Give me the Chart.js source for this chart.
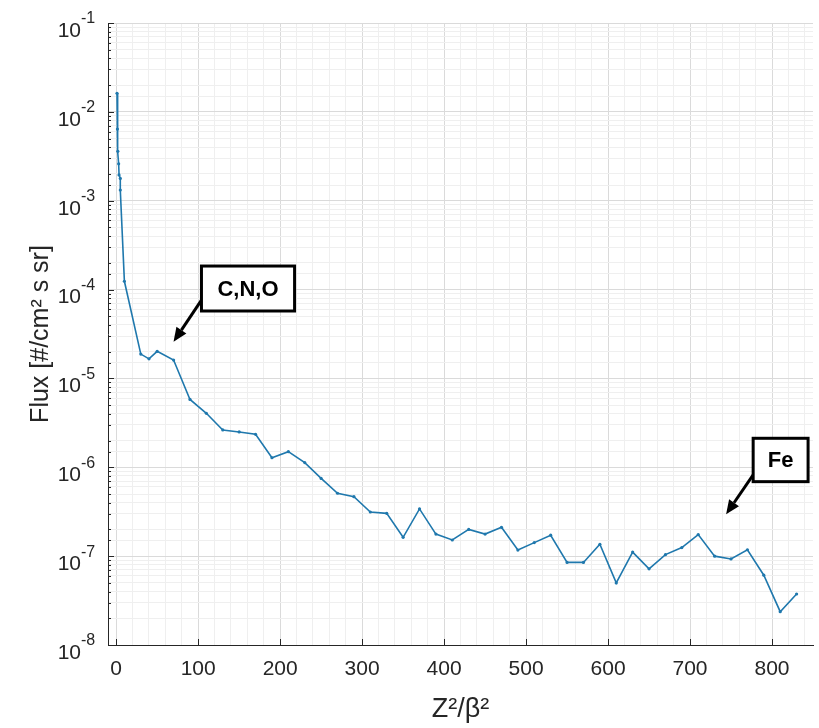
<!DOCTYPE html>
<html>
<head>
<meta charset="utf-8">
<script src="https://cdn.jsdelivr.net/npm/chart.js@4.4.0/dist/chart.umd.min.js"></script>
<style>
  html, body { margin: 0; padding: 0; background: #fff; }
  #wrap { width: 819px; height: 728px; }
</style>
</head>
<body>
<div id="wrap"><canvas id="fluxChart" width="819" height="728"></canvas></div>
<script>
// Z^2/beta^2 bins and the measured flux
const zOverBeta = [1, 1.5, 2, 3, 3.5, 5, 5, 10, 30, 40, 50, 70, 90, 110, 130, 150, 170, 190, 210, 230,
  250, 270, 290, 310, 330, 350, 370, 390, 410, 430, 450, 470, 490, 510, 530, 550, 570, 590, 610,
  630, 650, 670, 690, 710, 730, 750, 770, 790, 810, 830];
const flux = [1.62e-2, 6.4e-3, 3.6e-3, 2.6e-3, 1.95e-3, 1.78e-3, 1.32e-3, 1.24e-4, 1.88e-5, 1.66e-5,
  2.02e-5, 1.61e-5, 5.8e-6, 4.05e-6, 2.63e-6, 2.5e-6, 2.35e-6, 1.28e-6, 1.5e-6, 1.13e-6,
  7.5e-7, 5.1e-7, 4.67e-7, 3.14e-7, 3.03e-7, 1.63e-7, 3.4e-7, 1.77e-7, 1.52e-7, 2.0e-7,
  1.77e-7, 2.11e-7, 1.17e-7, 1.42e-7, 1.72e-7, 8.5e-8, 8.5e-8, 1.36e-7, 5.0e-8, 1.11e-7,
  7.2e-8, 1.04e-7, 1.25e-7, 1.75e-7, 1.0e-7, 9.3e-8, 1.18e-7, 6.1e-8, 2.37e-8, 3.75e-8];

const xTickLabels = [0, 100, 200, 300, 400, 500, 600, 700, 800];
const xMinorStep = 20;
const yExponents = [-8, -7, -6, -5, -4, -3, -2, -1];

const lineColor = "#1f78ad";
const axisColor = "#262626";
const fontFamily = "'Liberation Sans', Arial, Helvetica, sans-serif";

// callouts, anchored in data units
const notes = [
  { text: "C,N,O", x1: 104, x2: 217.6, yTop: 1.84e-4, yBottom: 5.74e-5, from: [104, 7.6e-5], to: [70, 2.59e-5] },
  { text: "Fe", x1: 777, x2: 844, yTop: 2.12e-6, yBottom: 6.89e-7, from: [777, 8.2e-7], to: [744, 2.96e-7] },
];

function drawArrow(ctx, x0, y0, x1, y1) {
  const ang = Math.atan2(y1 - y0, x1 - x0);
  const head = 14;
  const bx = x1 - head * Math.cos(ang);
  const by = y1 - head * Math.sin(ang);
  ctx.beginPath();
  ctx.moveTo(x0, y0);
  ctx.lineTo(bx, by);
  ctx.stroke();
  ctx.beginPath();
  ctx.moveTo(x1, y1);
  ctx.lineTo(bx + 6 * Math.sin(ang), by - 6 * Math.cos(ang));
  ctx.lineTo(bx - 6 * Math.sin(ang), by + 6 * Math.cos(ang));
  ctx.closePath();
  ctx.fill();
}

const fluxDecor = {
  id: "fluxDecor",
  afterDraw(chart) {
    const { ctx, chartArea } = chart;
    const x = chart.scales.x;
    const y = chart.scales.y;
    ctx.save();

    // inward tick marks like the original axes
    ctx.strokeStyle = axisColor;
    ctx.lineWidth = 1;
    x.ticks.forEach((t) => {
      if (!xTickLabels.includes(t.value)) return;
      const px = Math.round(x.getPixelForValue(t.value)) + 0.5;
      ctx.beginPath();
      ctx.moveTo(px, chartArea.bottom);
      ctx.lineTo(px, chartArea.bottom - 6);
      ctx.stroke();
    });
    y.ticks.forEach((t) => {
      const py = Math.round(y.getPixelForValue(t.value)) + 0.5;
      ctx.beginPath();
      ctx.moveTo(chartArea.left, py);
      ctx.lineTo(chartArea.left + (t.major ? 6 : 3), py);
      ctx.stroke();
    });

    // y labels as 10^n
    ctx.fillStyle = axisColor;
    y.ticks.forEach((t) => {
      if (!t.major) return;
      const exp = Math.round(Math.log10(t.value));
      if (!yExponents.includes(exp)) return;
      const py = y.getPixelForValue(t.value);
      ctx.font = "21px " + fontFamily;
      ctx.textAlign = "right";
      ctx.textBaseline = "middle";
      ctx.fillText("10", 81, py + 8);
      ctx.font = "16px " + fontFamily;
      ctx.textAlign = "left";
      ctx.fillText(String(exp), 81, py - 4);
    });

    // callout boxes and arrows
    notes.forEach((n) => {
      const left = x.getPixelForValue(n.x1);
      const right = x.getPixelForValue(n.x2);
      const top = y.getPixelForValue(n.yTop);
      const bottom = y.getPixelForValue(n.yBottom);
      ctx.strokeStyle = "#000";
      ctx.fillStyle = "#000";
      ctx.lineWidth = 3;
      drawArrow(ctx, x.getPixelForValue(n.from[0]), y.getPixelForValue(n.from[1]),
        x.getPixelForValue(n.to[0]), y.getPixelForValue(n.to[1]));
      ctx.fillStyle = "#fff";
      ctx.fillRect(left, top, right - left, bottom - top);
      ctx.strokeRect(left, top, right - left, bottom - top);
      ctx.fillStyle = "#000";
      ctx.font = "bold 22px " + fontFamily;
      ctx.textAlign = "center";
      ctx.textBaseline = "middle";
      ctx.fillText(n.text, (left + right) / 2, (top + bottom) / 2 + 1);
    });

    ctx.restore();
  },
};

const data = {
  datasets: [
    {
      label: "Flux",
      data: zOverBeta.map((v, i) => ({ x: v, y: flux[i] })),
      borderColor: lineColor,
      backgroundColor: lineColor,
      borderWidth: 1.6,
      pointRadius: 1.6,
      pointHoverRadius: 1.6,
      pointBorderWidth: 0,
      tension: 0,
    },
  ],
};

const config = {
  type: "line",
  data: data,
  options: {
    responsive: false,
    animation: false,
    devicePixelRatio: 1,
    layout: { padding: { top: 23, right: 6, left: 0, bottom: 0 } },
    plugins: {
      legend: { display: false },
      tooltip: { enabled: false },
    },
    scales: {
      x: {
        type: "linear",
        min: -10,
        max: 850,
        afterFit: (scale) => { scale.height = 83; },
        afterBuildTicks: (scale) => {
          const ticks = [];
          for (let v = xTickLabels[0]; v < scale.max; v += xMinorStep) ticks.push({ value: v });
          scale.ticks = ticks;
        },
        ticks: {
          autoSkip: false,
          maxRotation: 0,
          padding: 12,
          color: axisColor,
          font: { family: fontFamily, size: 21 },
          callback: (v) => (xTickLabels.includes(v) ? String(v) : ""),
        },
        grid: {
          drawTicks: false,
          color: (c) => (c.tick && xTickLabels.includes(c.tick.value) ? "#dadada" : "#efefef"),
        },
        border: { display: true, color: axisColor, width: 1 },
        title: {
          display: true,
          text: "Z\u00b2/\u03b2\u00b2",
          color: axisColor,
          padding: { top: 0, bottom: 2 },
          font: { family: fontFamily, size: 27 },
        },
      },
      y: {
        type: "logarithmic",
        min: 1e-8,
        max: 1e-1,
        afterFit: (scale) => { scale.width = 108; },
        ticks: { display: false, autoSkip: false },
        grid: {
          drawTicks: false,
          color: (c) => (c.tick && c.tick.major ? "#dadada" : "#efefef"),
        },
        border: { display: true, color: axisColor, width: 1 },
        title: {
          display: true,
          text: "Flux [#/cm\u00b2 s sr]",
          color: axisColor,
          padding: { top: 26, bottom: 0 },
          font: { family: fontFamily, size: 25 },
        },
      },
    },
  },
  plugins: [fluxDecor],
};

const ctx = document.getElementById("fluxChart").getContext("2d");
new Chart(ctx, config);
</script>
</body>
</html>
